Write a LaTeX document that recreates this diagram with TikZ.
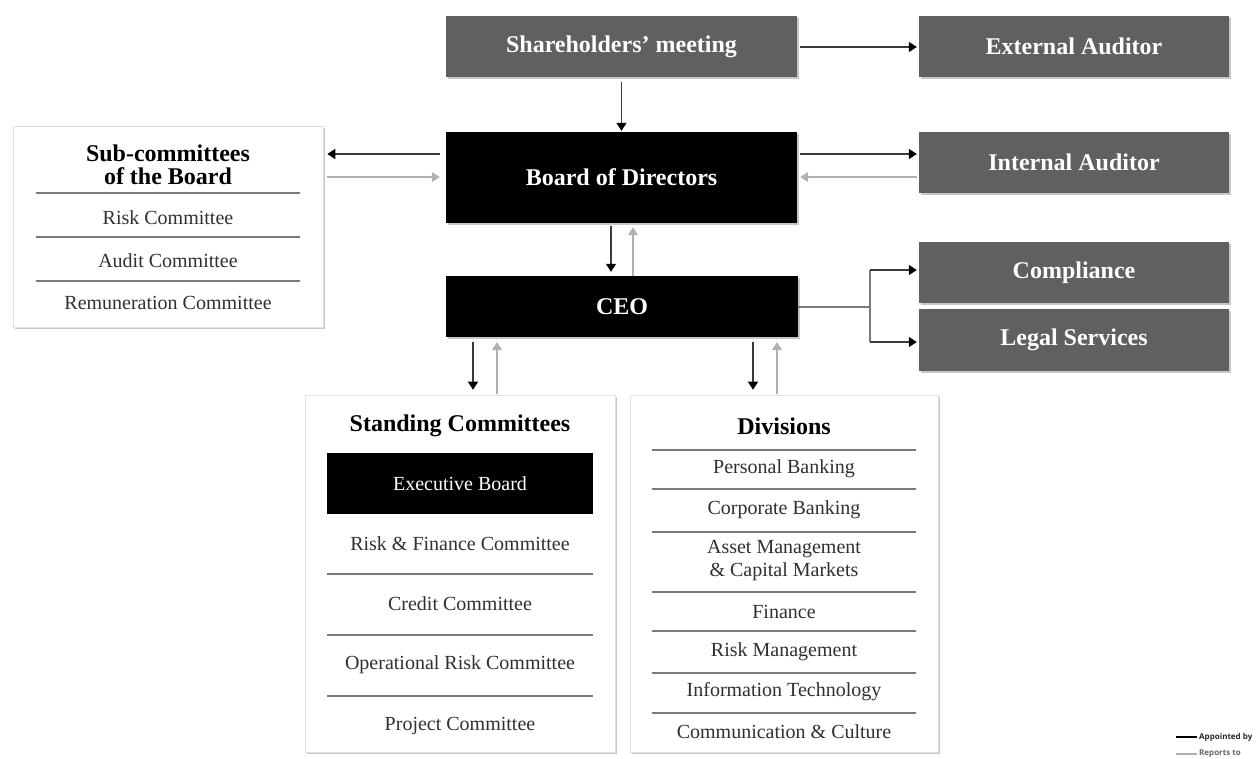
\documentclass[tikz,border=0pt]{standalone}
\usepackage{fontspec}
\setmainfont{Liberation Serif}
\newfontfamily\legendfont{Open Sans}
\usetikzlibrary{arrows.meta,shadows}
\definecolor{boxgrey}{HTML}{606060}
\definecolor{apptline}{HTML}{3A3A3A}
\definecolor{reportline}{HTML}{B0B0B0}
\definecolor{sepline}{HTML}{7A7A7A}
\definecolor{itemtext}{HTML}{303030}
\begin{document}
\begin{tikzpicture}[x=1pt,y=-1pt,
  shade/.style={drop shadow={shadow xshift=1.5pt,shadow yshift=-2pt,fill=black,opacity=0.22}},
  greybox/.style={rectangle,fill=boxgrey,text=white,inner sep=0pt,shade,
    font=\fontsize{24}{26}\selectfont\bfseries},
  blackbox/.style={rectangle,fill=black,text=white,inner sep=0pt,shade,
    font=\fontsize{24}{26}\selectfont\bfseries},
  panel/.style={rectangle,fill=white,draw=black!12,line width=0.6pt,inner sep=0pt,shade},
  heading/.style={font=\fontsize{24}{23}\selectfont\bfseries,align=center,inner sep=0pt},
  item/.style={font=\fontsize{20}{23}\selectfont,text=itemtext,align=center,inner sep=0pt},
  sep/.style={draw=sepline,line width=1.4pt},
  appt/.style={draw=apptline,line width=1.4pt,-{Triangle[length=8pt,width=10pt]},arrows={[color=black]}},
  report/.style={draw=reportline,line width=1.4pt,-{Triangle[length=8pt,width=10pt]}},
  plainline/.style={draw=sepline,line width=1.4pt}
]
\useasboundingbox (0,0) rectangle (1260,758);

% helper rows / columns
\coordinate (r47) at (0,47);
\coordinate (r154) at (0,154);
\coordinate (r177) at (0,177);
\coordinate (r270) at (0,270);
\coordinate (r307) at (0,307);
\coordinate (r342) at (0,342);
\coordinate (c611) at (611,0);
\coordinate (c633) at (633,0);
\coordinate (c473) at (473,0);
\coordinate (c497) at (497,0);
\coordinate (c753) at (753,0);
\coordinate (c777) at (777,0);
\coordinate (c870) at (870,0);

% main boxes
\node[greybox,minimum width=351pt,minimum height=61pt] (sh) at (621.5,46.5) {Shareholders’ meeting};
\node[greybox,minimum width=310pt,minimum height=61pt] (ext) at (1074,46.5) {External Auditor};
\node[blackbox,minimum width=351pt,minimum height=91pt] (bod) at (621.5,177.5) {Board of Directors};
\node[greybox,minimum width=310pt,minimum height=61pt] (int) at (1074,162.5) {Internal Auditor};
\node[blackbox,minimum width=352pt,minimum height=61pt] (ceo) at (622,306.5) {CEO};
\node[greybox,minimum width=310pt,minimum height=61pt] (comp) at (1074,272.5) {Compliance};
\node[greybox,minimum width=310pt,minimum height=62pt] (legal) at (1074,340) {Legal Services};

% sub-committees panel
\node[panel,minimum width=310pt,minimum height=201pt] (sub) at (168,226.5) {};
\node[heading] (subh) at (168,164.5) {Sub-committees\\of the Board};
\draw[sep] (36,193) -- (300,193);
\node[item] (sub1) at (168,218) {Risk Committee};
\draw[sep] (36,237) -- (300,237);
\node[item] (sub2) at (168,261) {Audit Committee};
\draw[sep] (36,281) -- (300,281);
\node[item] (sub3) at (168,303) {Remuneration Committee};

% standing committees panel
\node[panel,minimum width=310pt,minimum height=357pt] (std) at (460,573.5) {};
\node[heading] (stdh) at (460,426) {Standing Committees};
\node[rectangle,fill=black,text=white,inner sep=0pt,minimum width=266pt,minimum height=61pt,
  font=\fontsize{20}{23}\selectfont] (exec) at (460,483.5) {Executive Board};
\node[item] (std1) at (460,544) {Risk \& Finance Committee};
\draw[sep] (327,574) -- (593,574);
\node[item] (std2) at (460,604) {Credit Committee};
\draw[sep] (327,635) -- (593,635);
\node[item] (std3) at (460,665) {Operational Risk Committee};
\draw[sep] (327,696) -- (593,696);
\node[item] (std4) at (460,726) {Project Committee};

% divisions panel
\node[panel,minimum width=308pt,minimum height=357pt] (div) at (784,573.5) {};
\node[heading] (divh) at (784,426) {Divisions};
\draw[sep] (652,450) -- (916,450);
\node[item] (div1) at (784,469) {Personal Banking};
\draw[sep] (652,489) -- (916,489);
\node[item] (div2) at (784,510) {Corporate Banking};
\draw[sep] (652,532) -- (916,532);
\node[item] (div3) at (784,561) {Asset Management\\\& Capital Markets};
\draw[sep] (652,592) -- (916,592);
\node[item] (div4) at (784,612) {Finance};
\draw[sep] (652,631) -- (916,631);
\node[item] (div5) at (784,652) {Risk Management};
\draw[sep] (652,673) -- (916,673);
\node[item] (div6) at (784,692) {Information Technology};
\draw[sep] (652,713) -- (916,713);
\node[item] (div7) at (784,732) {Communication \& Culture};

% connectors
\draw[appt,shorten <=5pt,shorten >=1pt] (sh.south) -- (bod.north);
\draw[appt,shorten <=3pt,shorten >=2pt] (sh.east |- r47) -- (ext.west |- r47);
\draw[appt,shorten <=6pt,shorten >=4pt] (bod.west |- r154) -- (sub.east |- r154);
\draw[report,shorten <=4pt,shorten >=6pt] (sub.east |- r177) -- (bod.west |- r177);
\draw[appt,shorten <=3pt,shorten >=2pt] (bod.east |- r154) -- (int.west |- r154);
\draw[report,shorten <=2pt,shorten >=3pt] (int.west |- r177) -- (bod.east |- r177);
\draw[appt,shorten <=3pt,shorten >=4pt] (bod.south -| c611) -- (ceo.north -| c611);
\draw[report,shorten >=4pt] (ceo.north -| c633) -- (bod.south -| c633);
\draw[plainline] (ceo.east |- r307) -- (c870 |- r307);
\draw[plainline] (c870 |- r270) -- (c870 |- r342);
\draw[appt,shorten >=2pt] (c870 |- r270) -- (comp.west |- r270);
\draw[appt,shorten >=2pt] (c870 |- r342) -- (legal.west |- r342);
\draw[appt,shorten <=5pt,shorten >=5pt] (ceo.south -| c473) -- (std.north -| c473);
\draw[report,shorten <=1pt,shorten >=5pt] (std.north -| c497) -- (ceo.south -| c497);
\draw[appt,shorten <=5pt,shorten >=5pt] (ceo.south -| c753) -- (div.north -| c753);
\draw[report,shorten <=1pt,shorten >=5pt] (div.north -| c777) -- (ceo.south -| c777);

% legend
\coordinate (la) at (1176,737);
\coordinate (lb) at (1197,737);
\coordinate (lc) at (1176,754);
\coordinate (ld) at (1197,754);
\draw[draw=black,line width=2pt] (la) -- (lb);
\draw[draw=reportline,line width=2pt] (lc) -- (ld);
\node[anchor=west,inner sep=0pt,font=\legendfont\fontsize{8}{9}\selectfont\bfseries,text=black!85] (lt1) at (1199,737) {Appointed by};
\node[anchor=west,inner sep=0pt,font=\legendfont\fontsize{8}{9}\selectfont\bfseries,text=black!60] (lt2) at (1199,754) {Reports to};
\end{tikzpicture}
\end{document}
